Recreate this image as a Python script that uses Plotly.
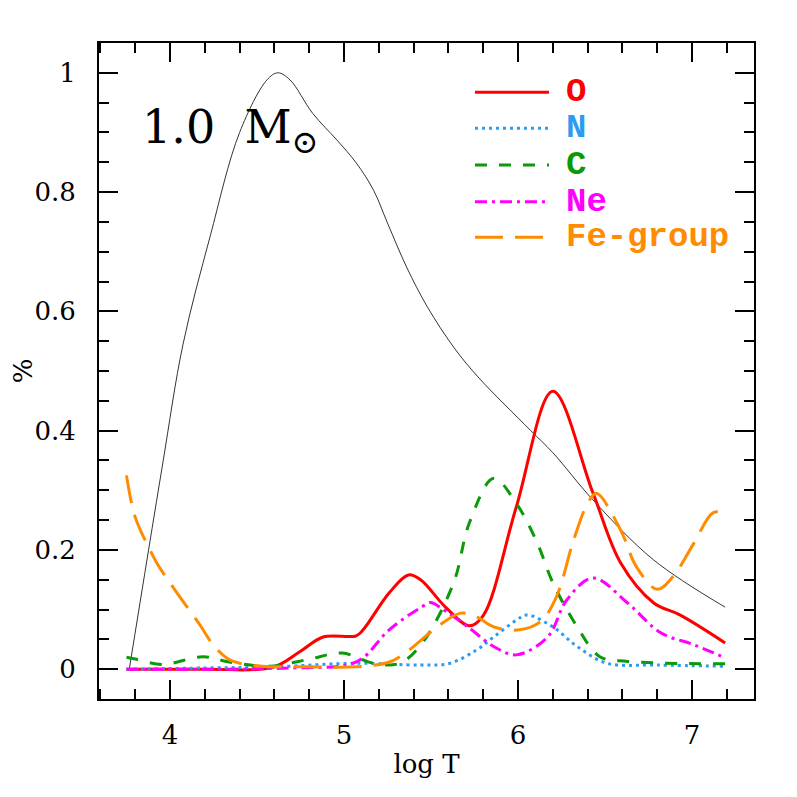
import plotly.graph_objects as go

# ---------- data ----------
logT_total = [3.766, 3.955, 4.075, 4.23, 4.40, 4.557, 4.62, 4.69, 4.82, 4.96, 5.07, 5.17,
              5.25, 5.36, 5.48, 5.63, 5.77, 6.07, 6.20, 6.43, 6.78, 7.19]
frac_total = [0.0, 0.339, 0.545, 0.725, 0.9, 0.988, 1.0, 0.988, 0.932, 0.887, 0.849, 0.803,
              0.748, 0.674, 0.607, 0.54, 0.49, 0.401, 0.363, 0.284, 0.183, 0.104]

logT_O = [3.75, 4.2, 4.59, 4.75, 4.88, 5.07, 5.11, 5.26, 5.37, 5.44, 5.58, 5.72, 5.8,
          5.99, 6.2, 6.43, 6.59, 6.78, 6.93, 7.19]
frac_O = [0.0, 0.0, 0.003, 0.03, 0.054, 0.056, 0.066, 0.128, 0.158, 0.15, 0.105, 0.073, 0.09,
          0.272, 0.466, 0.296, 0.178, 0.111, 0.091, 0.044]

logT_N = [3.75, 4.2, 4.6, 5.07, 5.44, 5.61, 5.76, 5.86, 5.99, 6.05, 6.2, 6.34, 6.51,
          6.8, 7.19]
frac_N = [0.0, 0.002, 0.004, 0.01, 0.007, 0.01, 0.032, 0.054, 0.082, 0.091, 0.071, 0.038,
          0.01, 0.007, 0.005]

logT_C = [3.75, 3.8, 3.96, 4.19, 4.34, 4.57, 4.79, 4.99, 5.17, 5.32, 5.45, 5.63, 5.72,
          5.86, 5.99, 6.11, 6.2, 6.34, 6.47, 6.63, 7.19]
frac_C = [0.02, 0.017, 0.008, 0.021, 0.012, 0.005, 0.016, 0.027, 0.01, 0.01, 0.044, 0.145,
          0.245, 0.32, 0.278, 0.212, 0.145, 0.071, 0.021, 0.013, 0.009]

logT_Ne = [3.75, 4.3, 4.7, 5.02, 5.11, 5.26, 5.45, 5.5, 5.55, 5.72, 5.86, 5.99, 6.17,
           6.28, 6.43, 6.63, 6.82, 7.01, 7.19]
frac_Ne = [0.0, 0.0, 0.002, 0.007, 0.019, 0.066, 0.105, 0.112, 0.104, 0.069, 0.038, 0.024,
           0.054, 0.116, 0.153, 0.111, 0.061, 0.041, 0.019]

logT_Fe = [3.75, 3.8, 3.885, 3.93, 4.04, 4.17, 4.25, 4.33, 4.4, 4.53, 4.8, 5.07, 5.26, 5.36,
           5.48, 5.55, 5.67, 5.76, 5.86, 6.01, 6.13, 6.22, 6.32, 6.4, 6.45, 6.59, 6.68, 6.8,
           6.89, 7.01, 7.12, 7.19]
frac_Fe = [0.325, 0.255, 0.2, 0.175, 0.128, 0.075, 0.04, 0.018, 0.01, 0.005, 0.004, 0.004,
           0.012, 0.029, 0.058, 0.074, 0.094, 0.088, 0.071, 0.066, 0.08, 0.121, 0.217, 0.278,
           0.295, 0.233, 0.172, 0.134, 0.155, 0.211, 0.262, 0.262]

series = [
    ('O', logT_O, frac_O, '#ff0000', 'solid'),
    ('N', logT_N, frac_N, '#2b9cf0', '3px,4px'),
    ('C', logT_C, frac_C, '#0a9a0a', '12px,12px'),
    ('Ne', logT_Ne, frac_Ne, '#ff00ff', '12px,5px,3px,5px'),
    ('Fe-group', logT_Fe, frac_Fe, '#ff8c00', '28px,12px'),
]

fig = go.Figure()

fig.add_trace(go.Scatter(x=logT_total, y=frac_total, mode='lines', line_shape='spline',
                         line=dict(color='black', width=0.8, smoothing=1.0), showlegend=False))

for name, xs, ys, col, dash in series:
    fig.add_trace(go.Scatter(x=xs, y=ys, mode='lines', line_shape='spline', name=name,
                             line=dict(color=col, width=3, dash=dash), showlegend=False))

# ---------- hand-made legend ----------
leg_y = [0.925, 0.870, 0.814, 0.758, 0.704]
for (name, xs, ys, col, dash), yy in zip(series, leg_y):
    fig.add_shape(type='line', xref='paper', yref='paper', x0=0.574, x1=0.687, y0=yy, y1=yy,
                  line=dict(color=col, width=3, dash=dash))
    fig.add_annotation(x=0.71, y=yy, xref='paper', yref='paper', text='<b>%s</b>' % name,
                       showarrow=False, xanchor='left', yanchor='middle',
                       font=dict(family='Liberation Mono', size=34, color=col))

fig.add_annotation(x=0.062, y=0.866, xref='paper', yref='paper',
                   text='1.0  M<sub>⊙</sub>', showarrow=False, xanchor='left', yanchor='middle',
                   font=dict(family='DejaVu Serif', size=46, color='black'))

axis_common = dict(showgrid=False, zeroline=False, showline=True, linecolor='black', linewidth=2,
                   mirror='allticks', ticks='inside', ticklen=19, tickwidth=1.5, tickcolor='black',
                   automargin=False,
                   tickfont=dict(family='DejaVu Serif', size=26, color='black'))

fig.update_xaxes(range=[3.592, 7.356], dtick=1, tick0=4, ticklabelstandoff=12,
                 minor=dict(dtick=0.2, ticklen=10, tickwidth=1.5, ticks='inside', tickcolor='black'),
                 title=dict(text='log T', font=dict(family='DejaVu Serif', size=26, color='black'),
                            standoff=6),
                 **axis_common)
fig.update_yaxes(range=[-0.05, 1.05], dtick=0.2, tick0=0, ticklabelstandoff=16,
                 minor=dict(dtick=0.05, ticklen=10, tickwidth=1.5, ticks='inside', tickcolor='black'),
                 title=dict(text='%', font=dict(family='DejaVu Serif', size=26, color='black'),
                            standoff=12),
                 **axis_common)

# page body adds an 8px offset, so the figure is 8px smaller and margins shifted
fig.update_layout(width=789, height=789, plot_bgcolor='white', paper_bgcolor='white',
                  margin=dict(l=91, r=43, t=35, b=98), showlegend=False)

fig.write_html("out.html")
